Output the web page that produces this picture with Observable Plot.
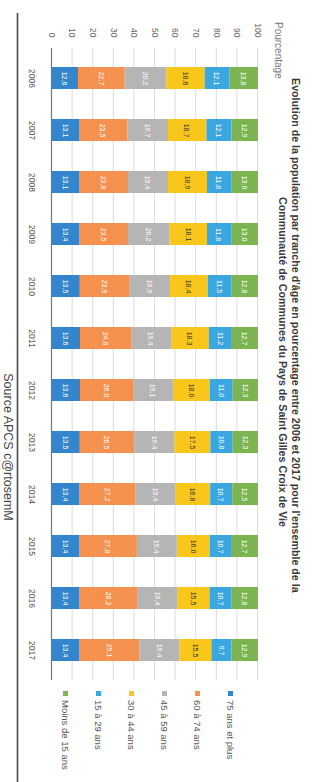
<!DOCTYPE html>
<html>
<head>
<meta charset="utf-8">
<script src="https://cdn.jsdelivr.net/npm/d3@7"></script>
<script src="https://cdn.jsdelivr.net/npm/@observablehq/plot@0.6"></script>
<style>
  html, body { margin: 0; padding: 0; background: #fff; overflow: hidden; }
  body { width: 324px; height: 782px; position: relative; }
  #wrap {
    position: absolute; left: 0; top: 0; width: 782px; height: 324px;
    transform-origin: 0 0; transform: translate(324px, 0) rotate(90deg);
    font-family: "Liberation Sans", Arial, sans-serif; background: #fff;
  }
  #chart { position: absolute; left: 0; top: 0; z-index: 1; }
  .title { position: absolute; font-weight: bold; font-size: 10.7px; color: #3a3a3a; white-space: nowrap; z-index: 2; }
  .ylab { position: absolute; left: 22px; top: 40px; font-size: 10px; color: #777; z-index: 2; }
  .legend { position: absolute; left: 691px; top: 0; z-index: 2; }
  .legend .item { position: absolute; left: 0; font-size: 9.5px; color: #555; white-space: nowrap; display: flex; align-items: center; }
  .legend .sw { width: 5px; height: 5px; margin-right: 4px; }
  .source { position: absolute; left: 56px; width: 782px; top: 309px; text-align: center; font-size: 12.5px; color: #444; z-index: 2; }
</style>
</head>
<body>
<div id="wrap">
  <div id="chart"></div>
  <div class="title" style="left:78px; top:22px">Evolution de la population par tranche d'âge en pourcentage entre 2006 et 2017 pour l'ensemble de la</div>
  <div class="title" style="left:197px; top:35px">Communauté de Communes du Pays de Saint Gilles Croix de Vie</div>
  <div class="ylab">Pourcentage</div>
  <div class="legend" id="legend"></div>
  <div class="source">Source APCS c@rtosemM</div>
</div>
<script>
const years = ["2006","2007","2008","2009","2010","2011","2012","2013","2014","2015","2016","2017"];
const ages = ["75 ans et plus","60 à 74 ans","45 à 59 ans","30 à 44 ans","15 à 29 ans","Moins de 15 ans"];
const colors = ["#3385cc","#f4914f","#b5b5b5","#f9c71c","#3ba7e0","#7cb452"];
const yTicks = [0,10,20,30,40,50,60,70,80,90,100];

const v75   = [12.6,13.1,13.1,13.4,13.5,13.6,13.6,13.5,13.4,13.4,13.4,13.4];
const v60   = [22.7,23.5,23.8,23.5,23.9,24.8,26.0,26.5,27.2,27.8,28.2,29.1];
const v45   = [20.2,19.7,19.4,20.2,19.9,19.4,19.1,19.4,19.4,19.4,19.4,19.4];
const v30   = [18.6,18.7,18.9,18.1,18.4,18.3,18.0,17.5,16.8,16.0,15.5,15.5];
const v15   = [12.1,12.1,11.8,11.8,11.5,11.2,11.0,10.8,10.7,10.7,10.7,9.7];
const v0    = [13.8,12.9,13.0,13.0,12.8,12.7,12.3,12.3,12.5,12.7,12.8,12.9];
const series = [v75, v60, v45, v30, v15, v0];

const data = years.flatMap((yr, i) => ages.map((a, j) => ({year: yr, age: a, value: series[j][i]})));
const fmt = v => v.toFixed(1).replace(".", ",");

const chart = Plot.plot({
  width: 782, height: 324,
  marginLeft: 48, marginRight: 102, marginTop: 66, marginBottom: 52,
  style: {fontFamily: "Liberation Sans, Arial, sans-serif", background: "transparent", overflow: "visible"},
  x: {domain: years, paddingInner: 0.58, paddingOuter: 0.29, axis: null},
  y: {domain: [0, 100], axis: null},
  color: {domain: ages, range: colors},
  marks: [
    Plot.gridY(yTicks, {stroke: "#dcdcdc", strokeOpacity: 1}),
    Plot.axisY(yTicks, {tickSize: 0, tickPadding: 11, fontSize: 8.5, fill: "#666", label: null}),
    Plot.barY(data, Plot.stackY({x: "year", y: "value", fill: "age", order: ages})),
    Plot.text(data, Plot.stackY({x: "year", y: "value", z: "age", order: ages,
      text: d => fmt(d.value), fontSize: 7,
      fill: d => d.age === "30 à 44 ans" ? "#333" : "#fff"})),
    Plot.ruleY([0], {stroke: "#777", strokeWidth: 1.2}),
    Plot.axisX({tickSize: 0, tickPadding: 16, fontSize: 8.5, fill: "#555", label: null})
  ]
});
// decorative separator line above the source note
d3.select(chart).append("line")
  .attr("x1", 13).attr("x2", 782).attr("y1", 306.5).attr("y2", 306.5)
  .attr("stroke", "#4a4a4a").attr("stroke-width", 1.6);
document.getElementById("chart").appendChild(chart);

const legend = document.getElementById("legend");
ages.forEach((a, i) => {
  const it = document.createElement("div");
  it.className = "item";
  it.style.top = (88 + i * 33) + "px";
  it.innerHTML = `<span class="sw" style="background:${colors[i]}"></span>${a}`;
  legend.appendChild(it);
});
</script>
</body>
</html>
